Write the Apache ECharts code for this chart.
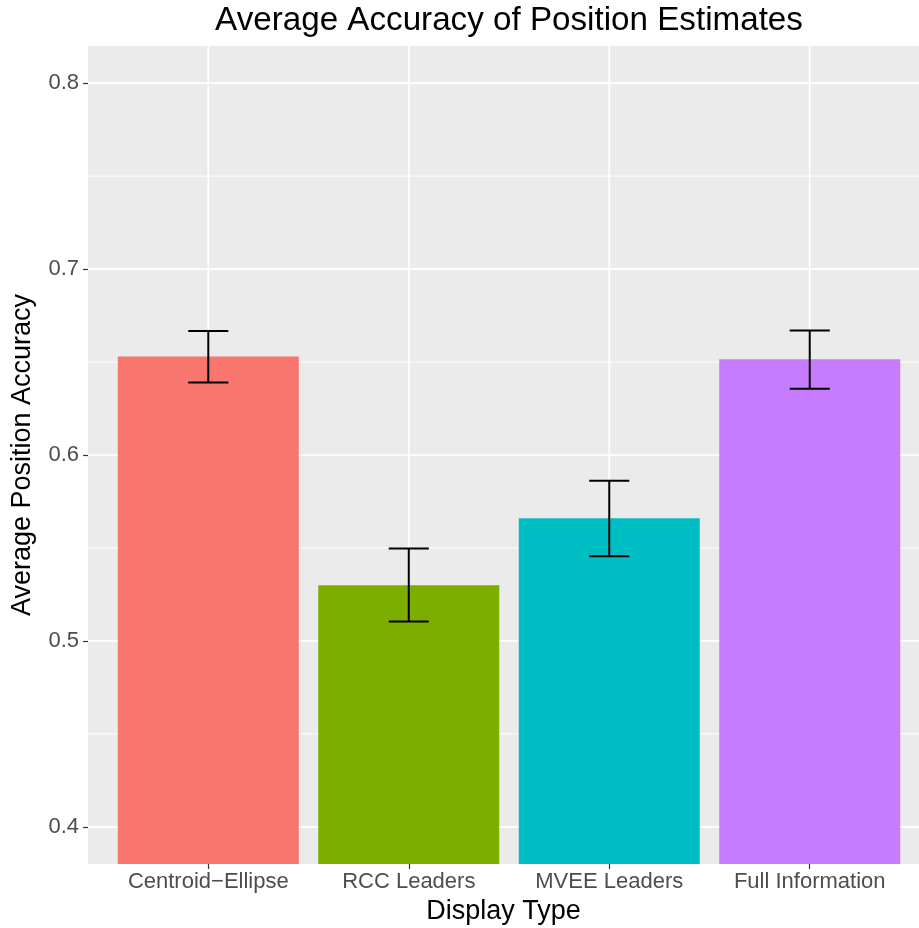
<!DOCTYPE html>
<html>
<head>
<meta charset="utf-8">
<script src="https://cdn.jsdelivr.net/npm/echarts@6/dist/echarts.min.js"></script>
<style>
html,body{margin:0;padding:0;background:#fff;}
#chart{width:919px;height:928px;}
</style>
</head>
<body>
<div id="chart"></div>
<script>
// ---- data ----
const categories = ['Centroid\u2212Ellipse', 'RCC Leaders', 'MVEE Leaders', 'Full Information'];
const categoryPositions = [1, 2, 3, 4];
const meanAccuracy = [0.653, 0.530, 0.566, 0.6515];
const errorLow = [0.639, 0.5105, 0.5455, 0.6356];
const errorHigh = [0.6667, 0.5497, 0.5861, 0.667];
const yMajorTicks = [0.4, 0.5, 0.6, 0.7, 0.8];
const yMinorTicks = [0.45, 0.55, 0.65, 0.75];
const barColors = ['#F8766D', '#7CAE00', '#00BFC4', '#C77CFF'];

const FONT = '"Liberation Sans", Arial, Helvetica, sans-serif';

const chart = echarts.init(document.getElementById('chart'), null, {renderer: 'canvas'});

function hLineRenderer(lw) {
  return function (params, api) {
    const cs = params.coordSys;
    const y = api.coord([api.value(0), api.value(1)])[1];
    return {type: 'line', silent: true,
      shape: {x1: cs.x, y1: y, x2: cs.x + cs.width, y2: y},
      style: {stroke: '#FFFFFF', lineWidth: lw}};
  };
}
function vLineRenderer(lw) {
  return function (params, api) {
    const cs = params.coordSys;
    const x = api.coord([api.value(0), api.value(1)])[0];
    return {type: 'line', silent: true,
      shape: {x1: x, y1: cs.y, x2: x, y2: cs.y + cs.height},
      style: {stroke: '#FFFFFF', lineWidth: lw}};
  };
}

const option = {
  animation: false,
  backgroundColor: '#FFFFFF',
  title: {
    text: 'Average Accuracy of Position Estimates',
    left: 509, top: 4, padding: 0, textAlign: 'center',
    textStyle: {fontFamily: FONT, fontSize: 33.2, fontWeight: 'normal', color: '#000000'}
  },
  grid: {
    left: 88, top: 46, right: 0, height: 818,
    outerBoundsMode: 'none',
    show: true, backgroundColor: '#EBEBEB', borderWidth: 0,
    containLabel: false
  },
  xAxis: {
    type: 'value', min: 0.4, max: 4.545,
    name: 'Display Type', nameLocation: 'middle', nameGap: 32,
    nameTextStyle: {fontFamily: FONT, fontSize: 27, color: '#000000'},
    axisLine: {show: false},
    axisTick: {show: true, customValues: categoryPositions, length: 5, lineStyle: {color: '#333333', width: 1.2}},
    axisLabel: {customValues: categoryPositions, margin: 7, fontFamily: FONT, fontSize: 22, color: '#4D4D4D',
      formatter: function (v) { return categories[categoryPositions.indexOf(Math.round(v))] || ''; }},
    splitLine: {show: false}
  },
  yAxis: {
    type: 'value', min: 0.38, max: 0.82,
    name: 'Average Position Accuracy', nameLocation: 'middle', nameGap: 52, nameRotate: 90,
    nameTextStyle: {fontFamily: FONT, fontSize: 27, color: '#000000'},
    axisLine: {show: false},
    axisTick: {show: true, customValues: yMajorTicks, length: 5, lineStyle: {color: '#333333', width: 1.2}},
    axisLabel: {customValues: yMajorTicks, margin: 9, fontFamily: FONT, fontSize: 22, color: '#4D4D4D',
      formatter: function (v) { return Number(v).toFixed(1); }},
    splitLine: {show: false}
  },
  series: [
    {type: 'custom', name: 'minorGridY', z: 1, silent: true, renderItem: hLineRenderer(1),
      data: yMinorTicks.map(v => [1, v])},
    {type: 'custom', name: 'majorGridY', z: 1, silent: true, renderItem: hLineRenderer(1.7),
      data: yMajorTicks.map(v => [1, v])},
    {type: 'custom', name: 'majorGridX', z: 1, silent: true, renderItem: vLineRenderer(1.7),
      data: categoryPositions.map(p => [p, 0.5])},
    {type: 'bar', name: 'Average Position Accuracy', z: 2, barWidth: 181,
      data: categoryPositions.map((p, i) => ({value: [p, meanAccuracy[i]], itemStyle: {color: barColors[i]}}))},
    {type: 'custom', name: 'errorbars', z: 3, silent: true,
      encode: {x: 0, y: [1, 2]},
      data: categoryPositions.map((p, i) => [p, errorLow[i], errorHigh[i]]),
      renderItem: function (params, api) {
        const x = api.value(0);
        const pLo = api.coord([x, api.value(1)]);
        const pHi = api.coord([x, api.value(2)]);
        const half = api.size([0.1, 0])[0];
        const st = {stroke: '#000000', lineWidth: 2};
        return {type: 'group', children: [
          {type: 'line', shape: {x1: pHi[0], y1: pHi[1], x2: pLo[0], y2: pLo[1]}, style: st},
          {type: 'line', shape: {x1: pHi[0] - half, y1: pHi[1], x2: pHi[0] + half, y2: pHi[1]}, style: st},
          {type: 'line', shape: {x1: pLo[0] - half, y1: pLo[1], x2: pLo[0] + half, y2: pLo[1]}, style: st}
        ]};
      }}
  ]
};
chart.setOption(option);
</script>
</body>
</html>
